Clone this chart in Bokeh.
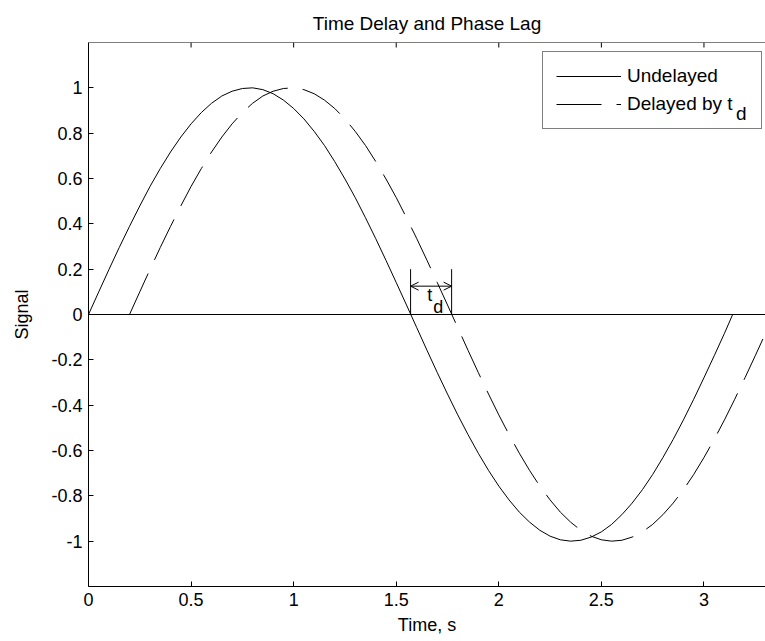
from bokeh.plotting import figure
from bokeh.models import (Range1d, LinearAxis, FixedTicker, Span, Arrow, OpenHead,
                          Label, Legend, LegendItem)
from bokeh.embed import file_html
from bokeh.resources import INLINE

# ---- data ----
undelayed_time = [0.00, 0.05, 0.10, 0.15, 0.20, 0.25, 0.30, 0.35, 0.40, 0.45,
                  0.50, 0.55, 0.60, 0.65, 0.70, 0.75, 0.80, 0.85, 0.90, 0.95,
                  1.00, 1.05, 1.10, 1.15, 1.20, 1.25, 1.30, 1.35, 1.40, 1.45,
                  1.50, 1.55, 1.60, 1.65, 1.70, 1.75, 1.80, 1.85, 1.90, 1.95,
                  2.00, 2.05, 2.10, 2.15, 2.20, 2.25, 2.30, 2.35, 2.40, 2.45,
                  2.50, 2.55, 2.60, 2.65, 2.70, 2.75, 2.80, 2.85, 2.90, 2.95,
                  3.00, 3.05, 3.10, 3.14]
undelayed_signal = [0.000, 0.100, 0.199, 0.296, 0.389, 0.479, 0.565, 0.644, 0.717, 0.783,
                    0.841, 0.891, 0.932, 0.964, 0.985, 0.997, 1.000, 0.992, 0.974, 0.946,
                    0.909, 0.863, 0.808, 0.746, 0.675, 0.598, 0.516, 0.427, 0.335, 0.239,
                    0.141, 0.042, -0.058, -0.158, -0.256, -0.351, -0.443, -0.530, -0.612, -0.688,
                    -0.757, -0.818, -0.872, -0.916, -0.952, -0.978, -0.994, -1.000, -0.996, -0.982,
                    -0.959, -0.926, -0.883, -0.832, -0.773, -0.706, -0.631, -0.551, -0.465, -0.374,
                    -0.279, -0.182, -0.083, 0.000]
delayed_time = [0.20, 0.25, 0.30, 0.35, 0.40, 0.45, 0.50, 0.55, 0.60, 0.65,
                0.70, 0.75, 0.80, 0.85, 0.90, 0.95, 1.00, 1.05, 1.10, 1.15,
                1.20, 1.25, 1.30, 1.35, 1.40, 1.45, 1.50, 1.55, 1.60, 1.65,
                1.70, 1.75, 1.80, 1.85, 1.90, 1.95, 2.00, 2.05, 2.10, 2.15,
                2.20, 2.25, 2.30, 2.35, 2.40, 2.45, 2.50, 2.55, 2.60, 2.65,
                2.70, 2.75, 2.80, 2.85, 2.90, 2.95, 3.00, 3.05, 3.10, 3.15,
                3.20, 3.25, 3.30, 3.34]
delayed_signal = [0.000, 0.100, 0.199, 0.296, 0.389, 0.479, 0.565, 0.644, 0.717, 0.783,
                  0.841, 0.891, 0.932, 0.964, 0.985, 0.997, 1.000, 0.992, 0.974, 0.946,
                  0.909, 0.863, 0.808, 0.746, 0.675, 0.598, 0.516, 0.427, 0.335, 0.239,
                  0.141, 0.042, -0.058, -0.158, -0.256, -0.351, -0.443, -0.530, -0.612, -0.688,
                  -0.757, -0.818, -0.872, -0.916, -0.952, -0.978, -0.994, -1.000, -0.996, -0.982,
                  -0.959, -0.926, -0.883, -0.832, -0.773, -0.706, -0.631, -0.551, -0.465, -0.374,
                  -0.279, -0.182, -0.083, 0.000]
td_marks = [1.57, 1.77]          # zero crossings bracketing the delay
td_mark_top = [0.20, 0.20]
td_arrow_level = 0.125

x_ticks = [0, 0.5, 1, 1.5, 2, 2.5, 3]
x_tick_labels = ["0", "0.5", "1", "1.5", "2", "2.5", "3"]
y_ticks = [-1, -0.8, -0.6, -0.4, -0.2, 0, 0.2, 0.4, 0.6, 0.8, 1]
y_tick_labels = ["-1", "-0.8", "-0.6", "-0.4", "-0.2", "0", "0.2", "0.4", "0.6", "0.8", "1"]

X_MIN, X_MAX, Y_MIN, Y_MAX = 0, 3.3, -1.2, 1.2
FONT = "Liberation Sans"
FS = "18px"

p = figure(width=765, height=641, output_backend="svg", toolbar_location=None,
           x_range=Range1d(X_MIN, X_MAX), y_range=Range1d(Y_MIN, Y_MAX),
           x_axis_location=None, y_axis_location=None,
           min_border_left=88, min_border_right=0, min_border_top=42, min_border_bottom=55)
p.outline_line_color = None
p.grid.visible = False
p.background_fill_color = "white"
p.border_fill_color = "white"

p.title.text = "Time Delay and Phase Lag"
p.title.text_font = FONT
p.title.text_font_size = "19px"
p.title.text_font_style = "normal"
p.title.text_color = "black"
p.title.align = "center"
p.title.standoff = 18

def style_axis(ax, ticks, labels):
    ax.ticker = FixedTicker(ticks=ticks)
    ax.major_label_overrides = {t: l for t, l in zip(ticks, labels)}
    ax.major_tick_in = 5
    ax.major_tick_out = 0
    ax.minor_tick_line_color = None
    ax.axis_line_color = "black"
    ax.major_tick_line_color = "black"
    ax.major_label_text_font = FONT
    ax.major_label_text_font_size = FS
    ax.major_label_text_color = "black"
    ax.axis_label_text_font = FONT
    ax.axis_label_text_font_size = FS
    ax.axis_label_text_font_style = "normal"
    ax.axis_label_text_color = "black"

xb = LinearAxis(axis_label="Time, s")
style_axis(xb, x_ticks, x_tick_labels)
xb.major_label_standoff = 6
xb.axis_label_standoff = 6
p.add_layout(xb, "below")

yl = LinearAxis(axis_label="Signal")
style_axis(yl, y_ticks, y_tick_labels)
yl.major_label_standoff = 6
yl.axis_label_standoff = 16
p.add_layout(yl, "left")

# top border of the box with inward ticks
p.add_layout(Span(location=Y_MAX, dimension="width", line_color="black", line_width=1))
tick_len = 5 * (Y_MAX - Y_MIN) / 544
p.segment(x0=x_ticks, y0=[Y_MAX] * len(x_ticks), x1=x_ticks,
          y1=[Y_MAX - tick_len] * len(x_ticks), line_color="black", line_width=1)

# zero line
p.add_layout(Span(location=0, dimension="width", line_color="black", line_width=1))

r1 = p.line(undelayed_time, undelayed_signal, line_color="black", line_width=1)
r2 = p.line(delayed_time, delayed_signal, line_color="black", line_width=1,
            line_dash="45 15")

# delay bracket
p.segment(x0=td_marks, y0=[0, 0], x1=td_marks, y1=td_mark_top,
          line_color="black", line_width=1)
p.add_layout(Arrow(start=OpenHead(size=8, line_width=1), end=OpenHead(size=8, line_width=1),
                   x_start=td_marks[0], y_start=td_arrow_level,
                   x_end=td_marks[1], y_end=td_arrow_level, line_width=1))
p.add_layout(Label(x=1.651, y=0.085, text="t", text_font=FONT, text_font_size=FS,
                   text_color="black", text_baseline="alphabetic"))
p.add_layout(Label(x=1.680, y=0.032, text="d", text_font=FONT, text_font_size=FS,
                   text_color="black", text_baseline="alphabetic"))

# subscript of the legend label (drawn under a transparent legend box)
p.add_layout(Label(x=3.156, y=0.885, text="d", text_font=FONT, text_font_size="19px",
                   text_color="black", text_baseline="alphabetic"))

legend = Legend(items=[LegendItem(label="Undelayed", renderers=[r1]),
                       LegendItem(label="Delayed by t", renderers=[r2])],
                location=(454, 457))
legend.glyph_width = 65
legend.glyph_height = 22
legend.label_height = 22
legend.label_width = 121
legend.label_standoff = 6
legend.padding = 13
legend.spacing = 6
legend.margin = 0
legend.border_line_color = "black"
legend.border_line_width = 1
legend.background_fill_alpha = 0
legend.label_text_font = FONT
legend.label_text_font_size = "19px"
legend.label_text_color = "black"
p.add_layout(legend, "center")

open("out.html", "w").write(file_html(p, INLINE))
